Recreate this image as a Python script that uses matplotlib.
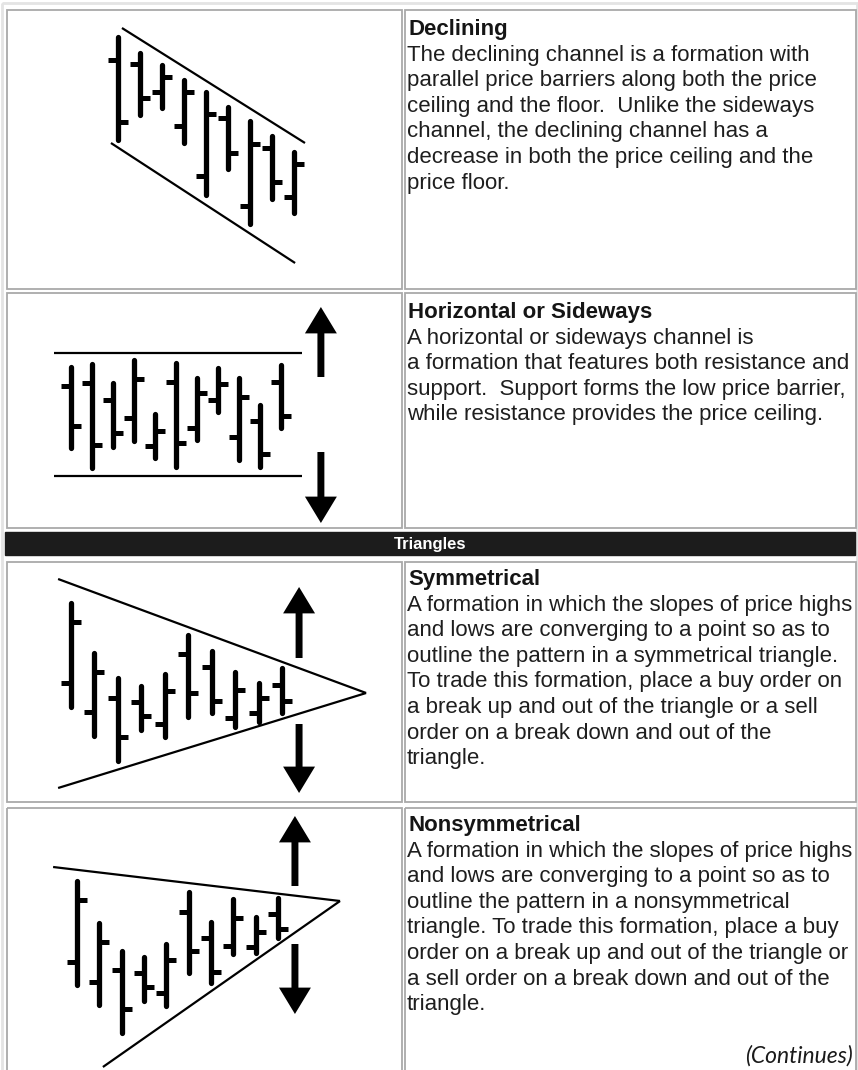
import matplotlib.pyplot as plt
from matplotlib.patches import Rectangle, FancyArrowPatch, ArrowStyle

# ---------------------------------------------------------------------------#
# --------------------------------- Data ----------------------------------- #

# Declining channel (price units, bar index on x)
decl_high = [252, 236, 224, 209, 197, 182, 168, 153, 137]
decl_low = [149, 174, 181, 146, 94, 120, 65, 90, 76]
decl_open = [229, 225, 197, 163, 113, 171, 83, 141, 92]
decl_close = [167, 191, 212, 197, 175, 136, 145, 107, 125]
decl_ceiling = ([0.18, 8.5], [261, 146])
decl_floor = ([-0.32, 8.05], [146, 26])

# Horizontal / sideways channel
side_high = [161, 164, 145, 168, 114, 165, 150, 160, 150, 123, 163]
side_low = [80, 60, 81, 87, 70, 61, 88, 116, 68, 61, 100]
side_open = [142, 145, 128, 110, 82, 146, 100, 128, 91, 107, 146]
side_close = [102, 83, 95, 149, 97, 85, 135, 144, 131, 74, 112]
side_resistance = ([-0.81, 11.0], [175, 175])
side_support = ([-0.81, 11.0], [52, 52])
side_arrows = (11.9, [(151, 221), (76, 5)])

# Symmetrical triangle
sym_high = [199, 149, 124, 116, 128, 167, 151, 130, 119, 134]
sym_low = [95, 66, 41, 72, 65, 85, 89, 75, 80, 89]
sym_open = [119, 90, 104, 100, 78, 148, 135, 84, 89, 117]
sym_close = [180, 130, 65, 86, 111, 109, 101, 112, 104, 101]
sym_upper = ([-0.55, 12.59], [223, 109])
sym_lower = ([-0.55, 12.59], [14, 109])
sym_arrows = (9.73, [(144, 215), (78, 9)])

# Nonsymmetrical triangle
non_high = [189, 147, 119, 113, 126, 178, 148, 171, 153, 172]
non_low = [85, 65, 37, 69, 64, 97, 87, 116, 117, 132]
non_open = [108, 88, 100, 97, 77, 158, 132, 124, 123, 156]
non_close = [170, 128, 61, 83, 110, 119, 98, 152, 138, 141]
non_upper = ([-1.07, 11.78], [203, 169])
non_lower = ([1.16, 11.78], [3, 169])
non_arrows = (9.76, [(184, 254), (126, 56)])

titles = ["Declining", "Horizontal or Sideways", "Symmetrical", "Nonsymmetrical"]
bodies = [
    ["The declining channel is a formation with",
     "parallel price barriers along both the price",
     "ceiling and the floor.  Unlike the sideways",
     "channel, the declining channel has a",
     "decrease in both the price ceiling and the",
     "price floor."],
    ["A horizontal or sideways channel is",
     "a formation that features both resistance and",
     "support.  Support forms the low price barrier,",
     "while resistance provides the price ceiling."],
    ["A formation in which the slopes of price highs",
     "and lows are converging to a point so as to",
     "outline the pattern in a symmetrical triangle.",
     "To trade this formation, place a buy order on",
     "a break up and out of the triangle or a sell",
     "order on a break down and out of the",
     "triangle."],
    ["A formation in which the slopes of price highs",
     "and lows are converging to a point so as to",
     "outline the pattern in a nonsymmetrical",
     "triangle. To trade this formation, place a buy",
     "order on a break up and out of the triangle or",
     "a sell order on a break down and out of the",
     "triangle."],
]
section_label = "Triangles"
footer = "(Continues)"

# ---------------------------------------------------------------------------#
# -------------------------------- Layout ---------------------------------- #

W, H = 858, 1070
rows = [(10, 289), (293, 528), (562, 802), (808, 1075)]
band = (532, 555)
leftX = (7, 402)
rightX = (405, 856)
# first bar pixel position and spacing per panel
barGrid = [(118, 22.0), (71, 21.0), (71, 23.44), (77, 22.33)]

fig = plt.figure(figsize=(W / 100, H / 100), dpi=100)
main = fig.add_axes([0, 0, 1, 1])
main.set_xlim(0, W)
main.set_ylim(H, 0)
main.axis('off')

# Outer frame and cell borders
main.add_patch(Rectangle((2, 3), W - 3, H, fill=False, ec='#e4e4e4', lw=2))
for top, bot in rows:
    for x0, x1 in (leftX, rightX):
        main.add_patch(Rectangle((x0, top), x1 - x0, bot - top, fill=False,
                                 ec='#a9a9a9', lw=1.3))

# Section band
main.add_patch(Rectangle((5, band[0]), 850, band[1] - band[0], fc='#1c1c1c', ec='#1c1c1c'))
main.text(430, (band[0] + band[1]) / 2 + 1, section_label, color='white',
          fontsize=12, fontweight='bold', ha='center', va='center',
          family='Liberation Sans')

# Descriptions
lineStep = 25.6
headCenters = [27, 310, 577, 823]
for title, body, yc in zip(titles, bodies, headCenters):
    main.text(408, yc + 8, title, fontsize=16, fontweight='bold', color='#151515',
              family='Liberation Sans', va='baseline')
    for k, line in enumerate(body):
        main.text(407, yc + 8 + (k + 1) * lineStep, line, fontsize=16, color='#1e1e1e',
                  family='Liberation Sans', va='baseline')
main.text(853, 1056, footer, fontsize=16.5, style='italic', color='#1a1a1a',
          family='Lato', ha='right', va='center')


# ---------------------------------------------------------------------------#
# ------------------------------ Bar Charts -------------------------------- #

def panelAxes(rowInd):
    top, bot = rows[rowInd]
    bot = min(bot, H)
    x0, dx = barGrid[rowInd]
    ax = fig.add_axes([leftX[0] / W, 1 - bot / H, (leftX[1] - leftX[0]) / W, (bot - top) / H])
    ax.set_xlim((leftX[0] - x0) / dx, (leftX[1] - x0) / dx)
    ax.set_ylim(0, bot - top)
    ax.patch.set_alpha(0)
    ax.axis('off')
    return ax, 10.0 / dx


def drawBars(ax, tick, high, low, opens, closes):
    idx = range(len(high))
    bars = ax.vlines(idx, low, high, color='black', lw=3.8)
    bars.set_capstyle('round')
    ax.hlines(opens, [i - tick for i in idx], list(idx), color='black', lw=3.6)
    ax.hlines(closes, list(idx), [i + tick for i in idx], color='black', lw=3.6)


def drawArrows(ax, arrows):
    xPos, spans = arrows
    for base, tip in spans:
        ax.add_patch(FancyArrowPatch((xPos, base), (xPos, tip), mutation_scale=1,
                                     arrowstyle=ArrowStyle.Simple(head_length=19, head_width=23, tail_width=5),
                                     color='black', lw=0, shrinkA=0, shrinkB=0))


panels = [
    (decl_high, decl_low, decl_open, decl_close, [decl_ceiling, decl_floor], None),
    (side_high, side_low, side_open, side_close, [side_resistance, side_support], side_arrows),
    (sym_high, sym_low, sym_open, sym_close, [sym_upper, sym_lower], sym_arrows),
    (non_high, non_low, non_open, non_close, [non_upper, non_lower], non_arrows),
]
for rowInd, (high, low, opens, closes, trendLines, arrows) in enumerate(panels):
    ax, tick = panelAxes(rowInd)
    for xs, ys in trendLines:
        ax.plot(xs, ys, color='black', lw=1.6, solid_capstyle='butt')
    drawBars(ax, tick, high, low, opens, closes)
    if arrows is not None:
        drawArrows(ax, arrows)

fig.savefig('out.png', dpi=100, facecolor='white')
